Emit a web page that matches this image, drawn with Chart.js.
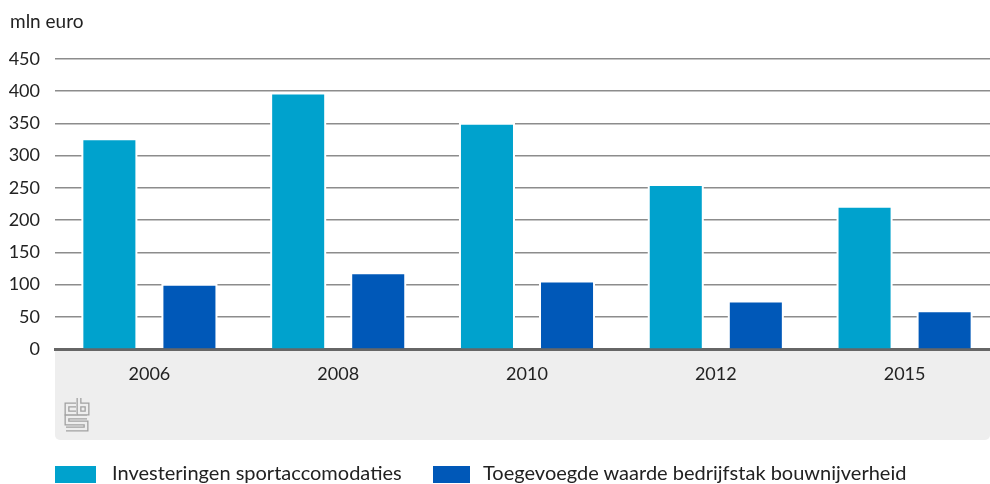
<!DOCTYPE html>
<html>
<head>
<meta charset="utf-8">
<script src="https://cdn.jsdelivr.net/npm/chart.js@4"></script>
<style>
  html, body { margin: 0; padding: 0; background: #fff; overflow: hidden; }
  #wrap { position: relative; width: 990px; height: 484px; overflow: hidden; }
  #legend { position: absolute; left: 0; top: 460px; width: 990px; height: 24px;
            font-family: Lato, sans-serif; font-size: 20px; color: #222; }
  .box { position: absolute; top: 6px; height: 17px; }
  .lbl { position: absolute; top: 0; line-height: 24px; white-space: nowrap; }
</style>
</head>
<body>
<div id="wrap">
  <canvas id="chart" width="999" height="484"></canvas>
  <div id="legend"></div>
</div>
<script>
// data
const years = ["2006", "2008", "2010", "2012", "2015"];
const investeringen = [324, 395, 348, 253, 219];
const toegevoegd = [98, 116, 103, 72, 57];
const seriesNames = ["Investeringen sportaccomodaties", "Toegevoegde waarde bedrijfstak bouwnijverheid"];
const seriesColors = ["#00a2cd", "#0058b8"];

// gray band under the axis, logo, unit label
const decor = {
  id: "decor",
  beforeDraw(chart) {
    const ctx = chart.ctx;
    const x = chart.scales.x;
    const left = chart.chartArea.left, right = 990;
    const top = x.top, bottom = x.bottom;
    ctx.save();
    ctx.fillStyle = "#eeeeee";
    ctx.beginPath();
    ctx.roundRect(left, top, right - left, bottom - top, [0, 0, 5, 5]);
    ctx.fill();

    // cbs logo
    const paths = [
      [[76, 405], [67, 405], [67, 413], [76, 413]],
      [[79, 398], [79, 413], [87, 413], [87, 405], [79, 405]],
      [[87, 417], [67, 417], [67, 423], [86, 423], [86, 429], [66, 429]]
    ];
    ctx.lineJoin = "miter";
    [[5, "#a0a0a0"], [2.4, "#eeeeee"]].forEach(([w, c]) => {
      ctx.lineWidth = w;
      ctx.strokeStyle = c;
      paths.forEach((p) => {
        ctx.beginPath();
        p.forEach((pt, i) => (i ? ctx.lineTo(pt[0], pt[1]) : ctx.moveTo(pt[0], pt[1])));
        ctx.stroke();
      });
    });

    ctx.fillStyle = "#222";
    ctx.font = "19px Lato";
    ctx.textBaseline = "middle";
    ctx.fillText("mln euro", 10, 22);
    ctx.restore();
  },
  // white halo round the bars so gridlines stop short of them
  beforeDatasetsDraw(chart) {
    const ctx = chart.ctx;
    ctx.save();
    ctx.fillStyle = "#fff";
    chart.data.datasets.forEach((ds, i) => {
      chart.getDatasetMeta(i).data.forEach((bar) => {
        const w = bar.width;
        ctx.fillRect(bar.x - w / 2 - 2, bar.y - 2, w + 4, bar.base - bar.y + 1);
      });
    });
    ctx.restore();
  }
};

new Chart(document.getElementById("chart"), {
  type: "bar",
  data: {
    labels: years,
    datasets: [
      { label: seriesNames[0], data: investeringen, backgroundColor: seriesColors[0] },
      { label: seriesNames[1], data: toegevoegd, backgroundColor: seriesColors[1] }
    ]
  },
  options: {
    responsive: false,
    animation: false,
    categoryPercentage: 0.848,
    barPercentage: 0.65,
    layout: { padding: { top: 59, right: 0, bottom: 44, left: 0 } },
    plugins: { legend: { display: false }, tooltip: { enabled: false } },
    scales: {
      x: {
        grid: { display: false },
        border: { color: "#666", width: 3 },
        ticks: { color: "#222", font: { family: "Lato", size: 18 }, padding: 6 },
        afterFit(scale) { scale.height = 91; }
      },
      y: {
        min: 0,
        max: 450,
        ticks: { stepSize: 50, color: "#222", font: { family: "Lato", size: 18 }, padding: 15 },
        grid: { color: "#8c8c8c", lineWidth: 1.5, drawTicks: false },
        border: { display: false },
        afterFit(scale) { scale.width = 55; }
      }
    }
  },
  plugins: [decor]
});

// legend
const legend = document.getElementById("legend");
const boxes = [[55, 41, 112], [433, 37, 483]];
seriesNames.forEach((name, i) => {
  const [bx, bw, tx] = boxes[i];
  const box = document.createElement("div");
  box.className = "box";
  box.style.left = bx + "px";
  box.style.width = bw + "px";
  box.style.background = seriesColors[i];
  const lbl = document.createElement("div");
  lbl.className = "lbl";
  lbl.style.left = tx + "px";
  lbl.textContent = name;
  legend.appendChild(box);
  legend.appendChild(lbl);
});
</script>
</body>
</html>
